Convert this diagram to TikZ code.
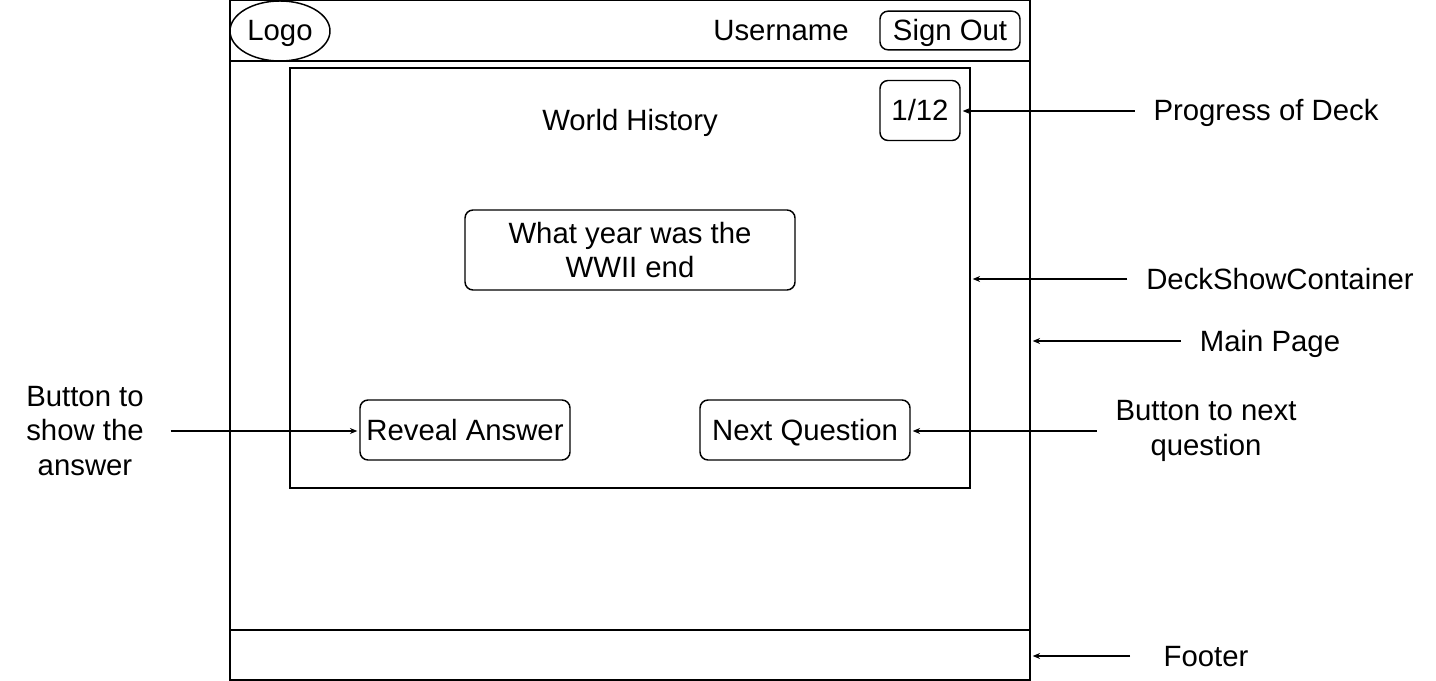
\documentclass[tikz,border=0pt]{standalone}
\usepackage{fontspec}
\setmainfont{Liberation Sans}
\usetikzlibrary{shapes.geometric,arrows.meta}

\tikzset{
  box/.style={draw,line width=1.1pt,rounded corners=6pt,inner sep=0pt},
  frame/.style={draw,line width=1.1pt,inner sep=0pt},
  note/.style={align=center,inner xsep=14pt,inner ysep=0pt},
  multi/.style={align=center,text height=,text depth=},
}

\begin{document}
\begin{tikzpicture}[x=0.75pt,y=0.75pt,yscale=-1,xscale=1,
    every node/.append style={font=\fontsize{22}{26}\selectfont,text height=20pt,text depth=5pt},
    >={Stealth[length=5.5pt,width=4.5pt]}]
              \useasboundingbox (0,0) rectangle (1436,681);
              % main page
              \node[frame,minimum width=600pt,minimum height=510pt] (page) at (630,340) {};
              \draw[line width=1.1pt] (230,61) -- (1030,61);
              \draw[line width=1.1pt] (230,630) -- (1030,630);
              % header
              \node[draw,ellipse,line width=1.1pt,minimum width=75pt,minimum height=45pt,inner sep=0pt] (logo) at (280,31) {Logo};
              \node (user) at (781,31) {Username};
              \node[box,minimum width=105pt,minimum height=29pt] (signout) at (950,30.5) {Sign Out};
              % deck
              \node[frame,minimum width=510pt,minimum height=315pt] (deck) at (630,278) {};
              \node (title) at (630,121) {World History};
              \node[box,minimum width=60pt,minimum height=45pt] (count) at (920,110.5) {1/12};
              \node[box,multi,minimum width=247.5pt,minimum height=60pt] (question) at (630,250) {What year was the\\WWII end};
              \node[box,minimum width=157.5pt,minimum height=45pt] (reveal) at (465,430) {Reveal Answer};
              \node[box,minimum width=157.5pt,minimum height=45pt] (next) at (805,430) {Next Question};
              % notes
              \node[note] (progress) at (1266,111) {Progress of Deck};
              \node[note] (container) at (1280,279) {DeckShowContainer};
              \node[note] (mainpage) at (1270,341) {Main Page};
              \node[note,multi] (nextnote) at (1206,431) {Button to next\\question};
              \node[note,inner xsep=25pt] (footer) at (1206,656) {Footer};
              \node[note,multi,inner xsep=20pt] (shownote) at (85,431) {Button to\\show the\\answer};
              \draw[->,line width=0.8pt] (progress.west) -- ([xshift=1.5pt]progress.west -| count.east);
              \draw[->,line width=0.8pt] (container.west) -- ([xshift=1.5pt]container.west -| deck.east);
              \draw[->,line width=0.8pt] (mainpage.west) -- ([xshift=1.5pt]mainpage.west -| page.east);
              \draw[->,line width=0.8pt] (nextnote.west) -- ([xshift=1.5pt]nextnote.west -| next.east);
              \draw[->,line width=0.8pt] (footer.west) -- ([xshift=1.5pt]footer.west -| page.east);
              \draw[->,line width=0.8pt] (shownote.east) -- ([xshift=-1.5pt]shownote.east -| reveal.west);
            \end{tikzpicture}
\end{document}
